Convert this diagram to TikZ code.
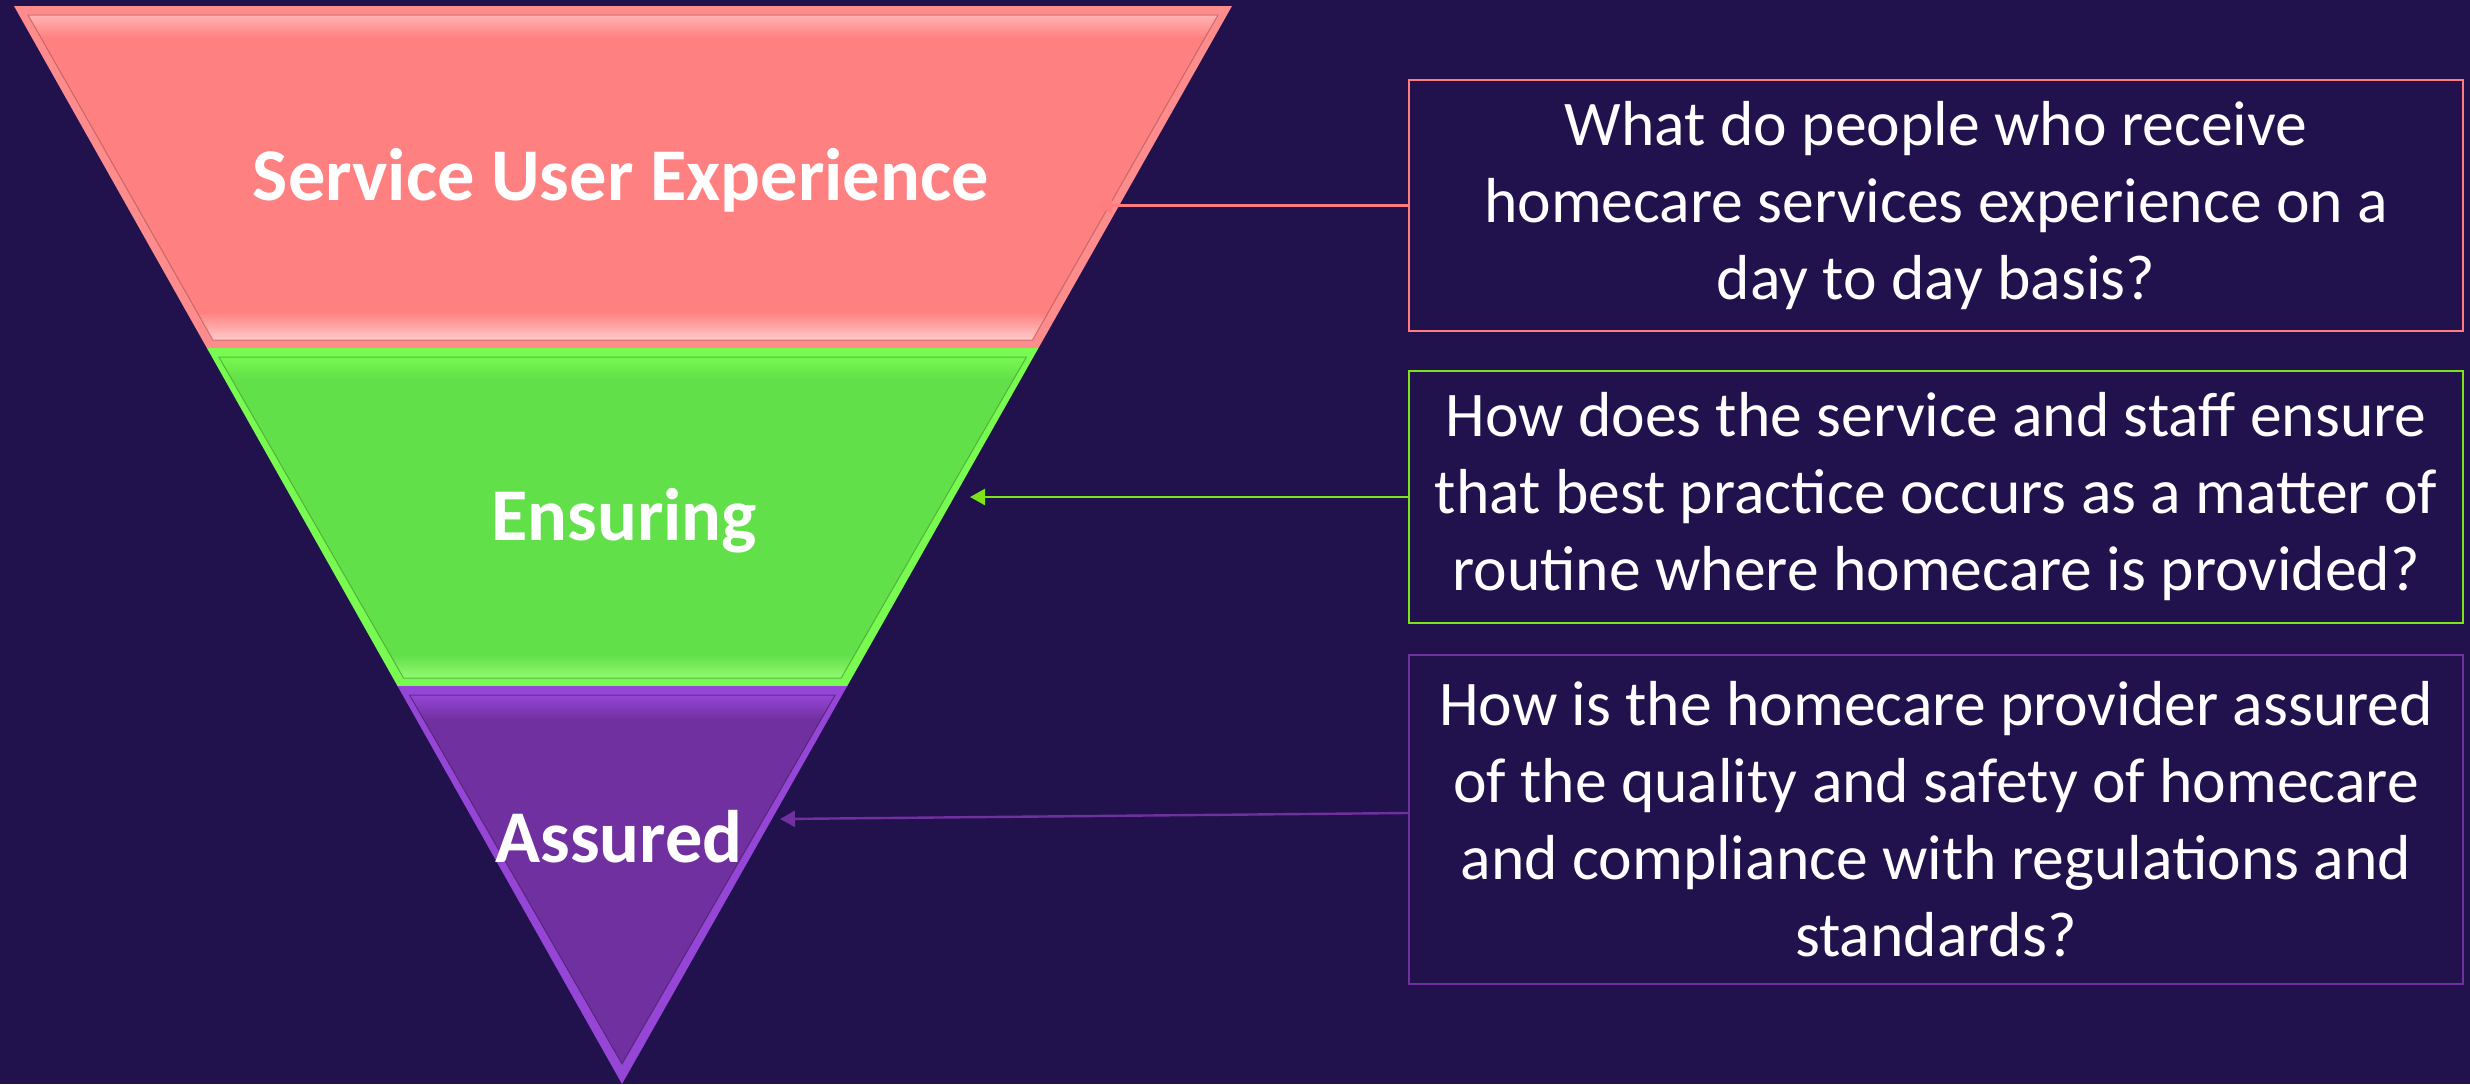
\documentclass[tikz,border=0pt]{standalone}
\usepackage{fontspec}
\setmainfont{Carlito}
\usetikzlibrary{arrows.meta,calc}
\definecolor{bg}{RGB}{33,18,77}
\definecolor{redmain}{RGB}{255,128,128}
\definecolor{redout}{RGB}{255,140,140}
\definecolor{redline}{RGB}{255,124,128}
\definecolor{grnmain}{RGB}{98,224,74}
\definecolor{grnout}{RGB}{120,250,80}
\definecolor{grnline}{RGB}{124,227,25}
\definecolor{purmain}{RGB}{112,48,160}
\definecolor{purout}{RGB}{150,70,215}
\definecolor{purline}{RGB}{112,48,160}
\tikzset{
  qbox/.style={draw, line width=1.2pt, fill=bg, text=white, align=center,
    minimum width=527pt, inner sep=0pt,
    font=\fontsize{31.8pt}{38.5pt}\selectfont},
  lab/.style={text=white, inner sep=0pt, font=\bfseries\fontsize{37.2pt}{44pt}\selectfont},
  conn/.style={line width=1.2pt, -{Triangle[length=7.5pt,width=8pt]}},
  edgeline/.style={line width=0.5pt, draw opacity=0.55},
}
\begin{document}
\begin{tikzpicture}[x=0.5pt,y=-0.5pt]
\fill[bg] (0,0) rectangle (2470,1084);
\useasboundingbox (0,0) rectangle (2470,1084);
% funnel geometry
\coordinate (TL) at (14,6);
\coordinate (TR) at (1232,6);
\coordinate (A) at (622,1084);
\coordinate (L1) at ($(TL)!0.3173!(A)$);
\coordinate (R1) at ($(TR)!0.3173!(A)$);
\coordinate (L2) at ($(TL)!0.6308!(A)$);
\coordinate (R2) at ($(TR)!0.6308!(A)$);
% red segment
\fill[redout] (TL) -- (TR) -- (R1) -- (L1) -- cycle;
\begin{scope}
\clip ($(TL)+(14,9)$) -- ($(TR)+(-14,9)$) -- ($(R1)+(-6,-8)$) -- ($(L1)+(6,-8)$) -- cycle;
\fill[redmain] (0,0) rectangle (1300,360);
\shade[top color=redmain!60!white, bottom color=redmain] (0,15) rectangle (1300,38);
\shade[top color=redmain, bottom color=redmain!40!white] (0,312) rectangle (1300,341);
\end{scope}
\draw[edgeline, draw=redmain!60!black] ($(TL)+(14,9)$) -- ($(TR)+(-14,9)$) -- ($(R1)+(-6,-8)$) -- ($(L1)+(6,-8)$) -- cycle;
% green segment
\fill[grnout] (L1) -- (R1) -- (R2) -- (L2) -- cycle;
\begin{scope}
\clip ($(L1)+(12,9)$) -- ($(R1)+(-12,9)$) -- ($(R2)+(-6,-8)$) -- ($(L2)+(6,-8)$) -- cycle;
\fill[grnmain] (0,340) rectangle (1300,700);
\shade[top color=grnout, bottom color=grnmain] (0,355) rectangle (1300,380);
\shade[top color=grnmain, bottom color=grnout!80!white] (0,655) rectangle (1300,679);
\end{scope}
\draw[edgeline, draw=grnmain!60!black] ($(L1)+(12,9)$) -- ($(R1)+(-12,9)$) -- ($(R2)+(-6,-8)$) -- ($(L2)+(6,-8)$) -- cycle;
% purple segment
\fill[purout] (L2) -- (R2) -- (A) -- cycle;
\begin{scope}
\clip ($(L2)+(12,9)$) -- ($(R2)+(-12,9)$) -- ($(A)+(0,-20)$) -- cycle;
\fill[purmain] (0,680) rectangle (1300,1084);
\shade[top color=purout, bottom color=purmain] (0,694) rectangle (1300,720);
\end{scope}
\draw[edgeline, draw=purmain!50!black] ($(L2)+(12,9)$) -- ($(R2)+(-12,9)$) -- ($(A)+(0,-20)$) -- cycle;
% labels
\node[lab, anchor=base] (l1) at (621,200) {Service User Experience};
\node[lab, anchor=base] (l2) at (624,540) {Ensuring};
\node[lab, anchor=base] (l3) at (619,862) {Assured};
% boxes
\node[qbox, draw=redline, minimum height=125.5pt] (b1) at (1936,205.5)
  {What do people who receive\\homecare services experience on a\\day to day basis?};
\node[qbox, draw=grnline, minimum height=126pt] (b2) at (1936,497)
  {How does the service and staff ensure\\that best practice occurs as a matter of\\routine where homecare is provided?};
\node[qbox, draw=purline, minimum height=164.5pt] (b3) at (1936,819.5)
  {How is the homecare provider assured\\of the quality and safety of homecare\\and compliance with regulations and\\standards?};
% connectors
\coordinate (t1) at (1097,205.5);
\coordinate (t2) at (970,497);
\coordinate (t3) at (780,819);
\draw[conn, draw=redline] (b1.west) -- (t1);
\draw[conn, draw=grnline] (b2.west) -- (t2);
\draw[conn, draw=purline] ([yshift=3.25pt]b3.west) -- (t3);
\end{tikzpicture}
\end{document}
